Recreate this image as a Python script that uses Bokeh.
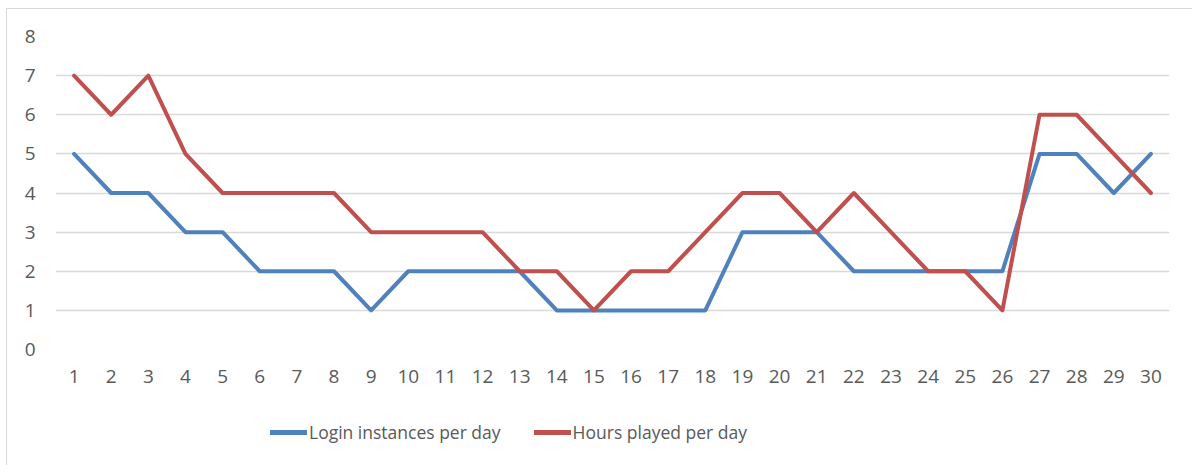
from bokeh.plotting import figure
from bokeh.models import ColumnDataSource, Legend, LegendItem, FactorRange
from bokeh.layouts import column
from bokeh.embed import file_html
from bokeh.resources import INLINE

days = ["1", "2", "3", "4", "5", "6", "7", "8", "9", "10",
        "11", "12", "13", "14", "15", "16", "17", "18", "19", "20",
        "21", "22", "23", "24", "25", "26", "27", "28", "29", "30"]
login = [5, 4, 4, 3, 3, 2, 2, 2, 1, 2, 2, 2, 2, 1, 1, 1, 1, 1, 3, 3,
         3, 2, 2, 2, 2, 2, 5, 5, 4, 5]
hours = [7, 6, 7, 5, 4, 4, 4, 4, 3, 3, 3, 3, 2, 2, 1, 2, 2, 3, 4, 4,
         3, 4, 3, 2, 2, 1, 6, 6, 5, 4]
y_ticks = [0, 1, 2, 3, 4, 5, 6, 7, 8]
series_names = ["Login instances per day", "Hours played per day"]
series_colors = ["#4f81bd", "#c0504d"]

src = ColumnDataSource(dict(day=days, login=login, hours=hours))

FONT = "Open Sans"
TXT = "#595959"

p = figure(width=1185, height=395, x_range=FactorRange(*days, range_padding=0),
           y_range=(0, 8), output_backend="svg", toolbar_location=None,
           min_border_left=48, min_border_right=23, min_border_top=27,
           min_border_bottom=55)
p.outline_line_color = None
p.background_fill_color = "white"
p.border_fill_color = "white"
p.x_range.factor_padding = 0
p.x_range.group_padding = 0

p.line("day", "login", source=src, line_color=series_colors[0], line_width=4,
       line_join="round", line_cap="round")
p.line("day", "hours", source=src, line_color=series_colors[1], line_width=4,
       line_join="round", line_cap="round")

p.xgrid.grid_line_color = None
p.ygrid.grid_line_color = "#d9d9d9"
p.ygrid.grid_line_width = 1.5
p.yaxis.ticker = y_ticks

for ax in (p.xaxis[0], p.yaxis[0]):
    ax.axis_line_color = None
    ax.major_tick_line_color = None
    ax.minor_tick_line_color = None
    ax.major_tick_out = 0
    ax.major_tick_in = 0
    ax.major_label_text_font = FONT
    ax.major_label_text_font_size = "19px"
    ax.major_label_text_color = TXT
p.yaxis.major_label_standoff = 20
p.xaxis.major_label_standoff = 20

# legend strip (its lines lie outside the visible range; only the legend shows)
q = figure(width=1185, height=61, x_range=(0, 1), y_range=(0, 1),
           output_backend="svg", toolbar_location=None,
           min_border_left=0, min_border_right=0, min_border_top=0,
           min_border_bottom=0)
q.axis.visible = False
q.grid.visible = False
q.outline_line_color = None
q.border_fill_color = "white"
q.background_fill_color = "white"
lr1 = q.line(x=[-5, -4], y=[-5, -5], line_color=series_colors[0], line_width=5,
             line_cap="round")
lr2 = q.line(x=[-5, -4], y=[-5, -5], line_color=series_colors[1], line_width=5,
             line_cap="round")

legend = Legend(items=[LegendItem(label=series_names[0], renderers=[lr1]),
                       LegendItem(label=series_names[1], renderers=[lr2])],
                orientation="horizontal", location=(215, 21),
                glyph_width=37, glyph_height=20, label_standoff=2, spacing=33,
                padding=0, margin=0, border_line_color=None,
                background_fill_alpha=0,
                label_text_font=FONT, label_text_font_size="17.5px",
                label_text_color=TXT)
q.add_layout(legend, "center")

layout = column(p, q, spacing=0)
layout.styles = {"border-left": "1px solid #d9d9d9", "border-top": "1px solid #d9d9d9",
                 "margin-left": "6px", "margin-top": "8px"}

open("out.html", "w").write(file_html(layout, INLINE))
